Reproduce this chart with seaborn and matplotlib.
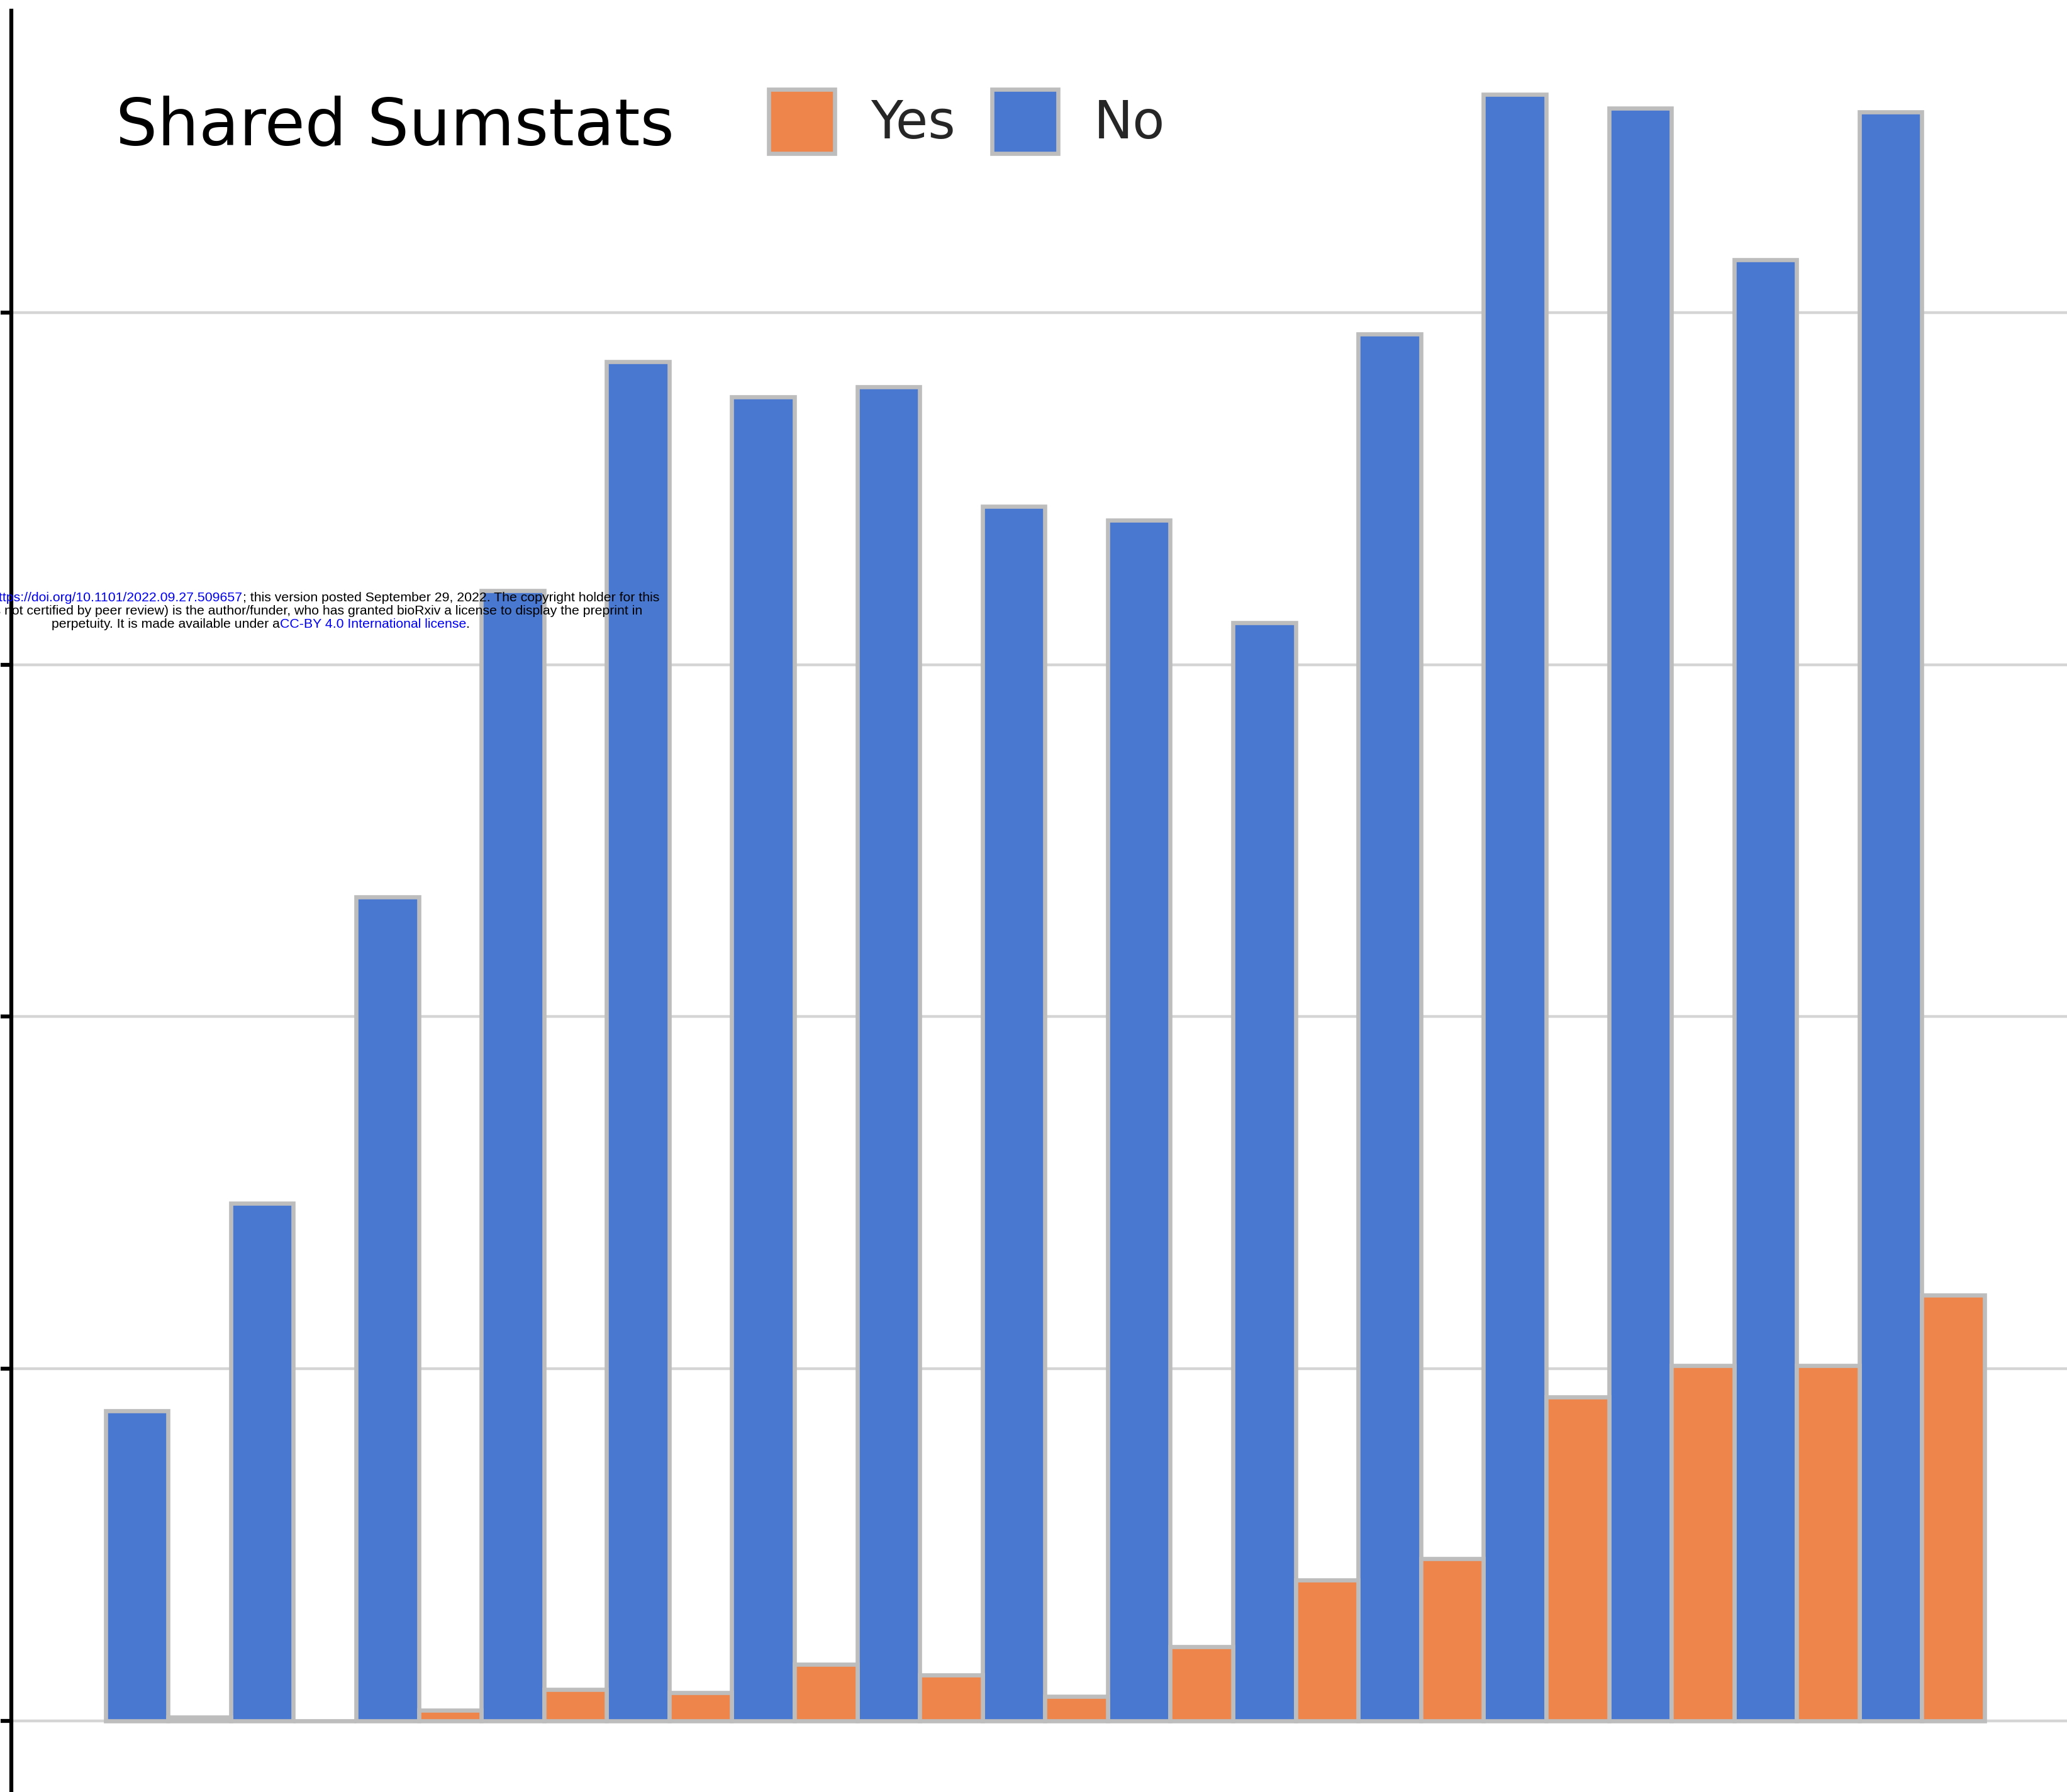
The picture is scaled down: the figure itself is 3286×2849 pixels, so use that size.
import matplotlib
matplotlib.use("Agg")
import matplotlib.pyplot as plt
from matplotlib.patches import Patch
import pandas as pd
import seaborn as sns

# ---- data -------------------------------------------------------------
years = [str(y) for y in range(2007, 2022)]
no_shared = [88, 147, 234, 321, 386, 376, 379, 345, 341, 312, 394, 462, 458, 415, 457]
yes_shared = [1, 0, 3, 9, 8, 16, 13, 7, 21, 40, 46, 92, 101, 101, 121]
hue_order = ["No", "Yes"]
legend_order = ["Yes", "No"]
legend_title = "Shared Sumstats"
y_ticks = [0, 100, 200, 300, 400]

notice_lines = [
    [("bioRxiv preprint doi: ", "black"),
     ("https://doi.org/10.1101/2022.09.27.509657", "#0000ee"),
     ("; this version posted September 29, 2022. The copyright holder for this", "black")],
    [("(which was not certified by peer review) is the author/funder, who has granted "
      "bioRxiv a license to display the preprint in", "black")],
    [("perpetuity. It is made available under a", "black"),
     ("CC-BY 4.0 International license", "#0000ee"),
     (".", "black")],
]

df = pd.DataFrame({
    "year": years * 2,
    "shared": ["No"] * len(years) + ["Yes"] * len(years),
    "count": no_shared + yes_shared,
})

# ---- style ------------------------------------------------------------
sns.set_theme(style="white")
plt.rcParams["font.family"] = ["DejaVu Sans"]
muted = sns.color_palette("muted")
palette = {"No": muted[0], "Yes": muted[1]}
edge_grey = "#bdbdbd"

W, H, DPI = 3287, 2849, 100
fig = plt.figure(figsize=(W / DPI, H / DPI), dpi=DPI)
fig.patch.set_facecolor("white")

ax_left = 17.8 / W
ax_top = 1 - 16.8 / H
ax = fig.add_axes([ax_left, 0.0, 1 - ax_left, ax_top])

sns.barplot(data=df, x="year", y="count", hue="shared", order=years,
            hue_order=hue_order, palette=palette, saturation=1, width=1.0,
            edgecolor=edge_grey, linewidth=4.8, errorbar=None, legend=False, ax=ax)

ax.set_xlim(-1.2526, 15.163)
ax.set_ylim(-20.2, 485.8)
ax.set_yticks(y_ticks)
ax.yaxis.grid(True, color="#d5d5d5", linewidth=3.2)
ax.xaxis.grid(False)
ax.set_axisbelow(True)
ax.set_xlabel("")
ax.set_ylabel("")
ax.tick_params(axis="y", left=True, length=12, width=4.5, color="black",
               direction="out", labelleft=False)
ax.tick_params(axis="x", bottom=False, labelbottom=False)
for side in ("top", "right", "bottom"):
    ax.spines[side].set_visible(False)
ax.spines["left"].set_color("black")
ax.spines["left"].set_linewidth(4.5)

# ---- legend: title on the left, entries in one row ----------------------
fig.text(184.5 / W, 1 - 230 / H, legend_title, fontsize=75, ha="left",
         va="baseline", color="black")
handles = [Patch(facecolor=palette[k], edgecolor=edge_grey, linewidth=4.8, label=k)
           for k in legend_order]
fig.legend(handles=handles, loc="center left", bbox_to_anchor=(1222 / W, 1 - 193 / H),
           ncol=2, frameon=False, fontsize=60, handlelength=1.26, handleheight=1.52,
           handletextpad=0.68, columnspacing=0.7, borderpad=0, borderaxespad=0)

# ---- preprint notice ---------------------------------------------------
renderer = fig.canvas.get_renderer()
nfam = ["Liberation Sans", "DejaVu Sans"]


def text_width(s, size):
    t = fig.text(0, 0, s + "x", fontsize=size, family=nfam)
    w1 = t.get_window_extent(renderer).width
    t.remove()
    t = fig.text(0, 0, "x", fontsize=size, family=nfam)
    w2 = t.get_window_extent(renderer).width
    t.remove()
    return w1 - w2


ref_line = "".join(p for p, _ in notice_lines[2])
fs = 10 * 668 / text_width(ref_line, 10)
# (anchor x in pixels, "left" or "right" end, baseline y in pixels from top)
anchors = [(1048, "right", 956), (1021, "right", 977), (82, "left", 998)]
for parts, (ax_px, side, base) in zip(notice_lines, anchors):
    full = "".join(p for p, _ in parts)
    x0 = ax_px - text_width(full, fs) if side == "right" else ax_px
    prefix = ""
    for piece, col in parts:
        x = x0 + (text_width(prefix, fs) if prefix else 0)
        fig.text(x / W, 1 - base / H, piece, fontsize=fs, family=nfam, color=col,
                 ha="left", va="baseline", zorder=10)
        prefix += piece

fig.savefig("out.png", dpi=DPI, facecolor="white")
